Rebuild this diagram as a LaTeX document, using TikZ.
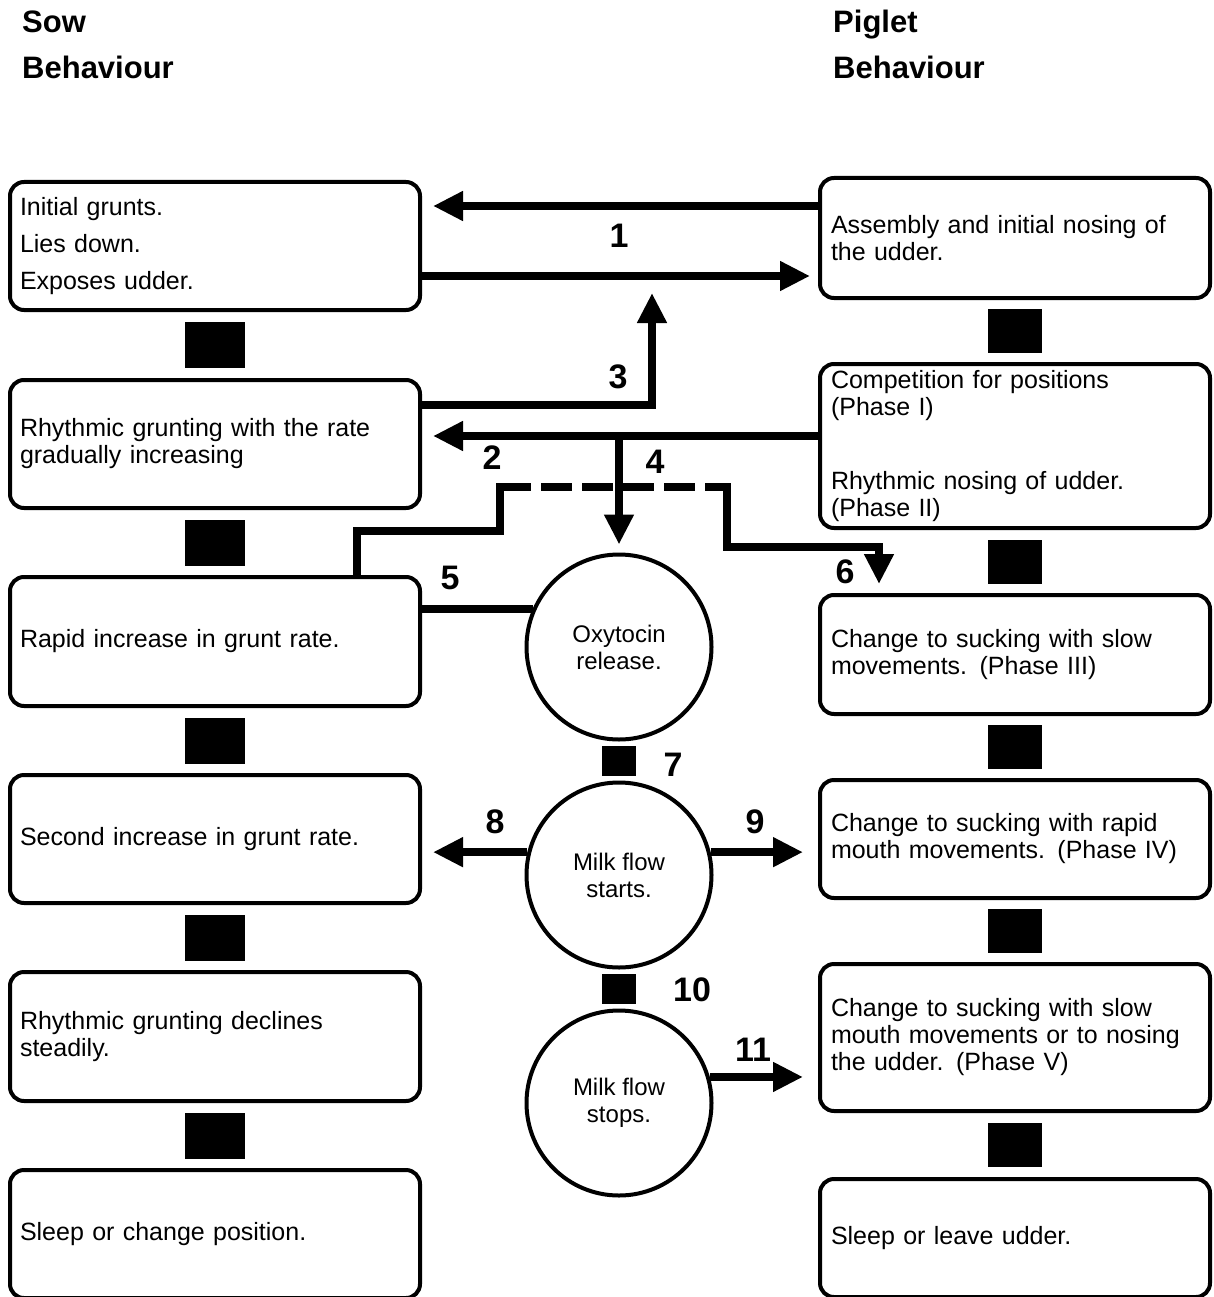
\documentclass[tikz,border=0pt]{standalone}
\usepackage{fontspec}
\setmainfont{Liberation Sans}
\usetikzlibrary{calc,arrows.meta,positioning}

\tikzset{
  sowbox/.style={draw,line width=4pt,rounded corners=14pt,minimum width=410pt,
    text width=390pt,inner xsep=10pt,align=left,font=\fontsize{25}{27}\selectfont},
  pigbox/.style={sowbox,minimum width=390pt,text width=368pt,inner xsep=11pt},
  event/.style={draw,circle,line width=4pt,minimum size=185pt,align=center,
    font=\fontsize{24}{27}\selectfont},
  link/.style={line width=8pt},
  flow/.style={link,-{Triangle[length=30pt,width=28pt]}},
  num/.style={font=\fontsize{34}{34}\selectfont\bfseries},
  head/.style={anchor=base west,inner sep=0pt,font=\fontsize{31}{31}\selectfont\bfseries},
}

\begin{document}
\begin{tikzpicture}[x=1pt,y=-1pt,line join=miter]
  \useasboundingbox (0,0) rectangle (1214,1297);

  \node[head] (sowtop) at (22,33) {Sow};
  \node[head] (sowbot) at (22,79) {Behaviour};
  \node[head] (pigtop) at (833,33) {Piglet};
  \node[head] (pigbot) at (833,79) {Behaviour};

  \node[sowbox,minimum height=128pt] (L1) at (215,246) {Initial grunts.\\[10pt]Lies down.\\[10pt]Exposes udder.};
  \node[sowbox,minimum height=128pt] (L2) at (215,444) {Rhythmic grunting with the rate\\gradually increasing};
  \node[sowbox,minimum height=129pt] (L3) at (215,641.5) {Rapid increase in grunt rate.};
  \node[sowbox,minimum height=128pt] (L4) at (215,839) {Second increase in grunt rate.};
  \node[sowbox,minimum height=129pt] (L5) at (215,1036.5) {Rhythmic grunting declines\\steadily.};
  \node[sowbox,minimum height=128pt] (L6) at (215,1234) {Sleep or change position.};

  \node[pigbox,minimum height=120pt] (R1) at (1015,238) {Assembly and initial nosing of\\the udder.};
  \node[pigbox,minimum height=164pt] (R2) at (1015,446) {Competition for positions\\(Phase I)\\[47pt]Rhythmic nosing of udder.\\(Phase II)};
  \node[pigbox,minimum height=119pt] (R3) at (1015,654.5) {Change to sucking with slow\\movements. (Phase III)};
  \node[pigbox,minimum height=118pt] (R4) at (1015,839) {Change to sucking with rapid\\mouth movements. (Phase IV)};
  \node[pigbox,minimum height=147pt] (R5) at (1015,1037.5) {Change to sucking with slow\\mouth movements or to nosing\\the udder. (Phase V)};
  \node[pigbox,minimum height=118pt] (R6) at (1015,1238) {Sleep or leave udder.};

  \node[event] (oxy) at (619,647) {Oxytocin\\release.};
  \node[event] (starts) at (619,875) {Milk flow\\starts.};
  \node[event] (stops) at (619,1103) {Milk flow\\stops.};

  \foreach \a/\b in {L1/L2,L2/L3,L3/L4,L4/L5,L5/L6}
    \fill ($(\a.south)!.5!(\b.north)$) ++(-30,-23) rectangle ++(60,46);
  \foreach \a/\b in {R1/R2,R2/R3,R3/R4,R4/R5,R5/R6}
    \fill ($(\a.south)!.5!(\b.north)$) ++(-27,-22) rectangle ++(54,44);
  \foreach \a/\b in {oxy/starts,starts/stops}
    \fill ($(\a.south)!.5!(\b.north)$) ++(-17,-15) rectangle ++(34,30);

  \draw[flow,shorten >=11pt] (R1.west |- 0,206) -- (L1.east |- 0,206);
  \draw[flow,shorten >=8pt] (L1.east |- 0,276) -- (R1.west |- 0,276);
  \coordinate (up3) at (652,293);
  \draw[flow] (L2.east |- 0,405) -| (up3);
  \draw[flow,shorten >=11pt] (R2.west |- 0,436) -- (L2.east |- 0,436);
  \coordinate (j4) at (oxy.north |- 0,436);
  \draw[flow,shorten >=8pt] (j4) -- (oxy.north);
  \draw[link] (L3.east |- oxy.156) -- (oxy.156);

  \coordinate (d1) at (357,531);
  \coordinate (d2) at (500,487);
  \coordinate (d3) at (727,547);
  \draw[link] (L3.north -| d1) |- (d2 |- d1) |- ($(d2)+(12,0)$);
  \draw[link,dash pattern=on 31pt off 10pt] (d2) -- (d3 |- d2);
  \draw[flow,shorten >=9pt] ($(d3 |- d2)+(-12,0)$) -| (d3) -| (R3.north -| 879,0);

  \draw[flow,shorten >=11pt] (starts.166) -- (L4.east |- starts.166);
  \draw[flow,shorten >=15pt] (starts.14) -- (R4.west |- starts.14);
  \draw[flow,shorten >=15pt] (stops.16) -- (R5.west |- stops.16);

  \foreach \n/\x/\y in {1/619/236,2/492/458,3/618/377,4/655/462,5/450/578,6/845/572,
                        7/673/765,8/495/822,9/755/822,10/692/990,11/753/1050}
    \node[num] (n\n) at (\x,\y) {\n};
\end{tikzpicture}
\end{document}
